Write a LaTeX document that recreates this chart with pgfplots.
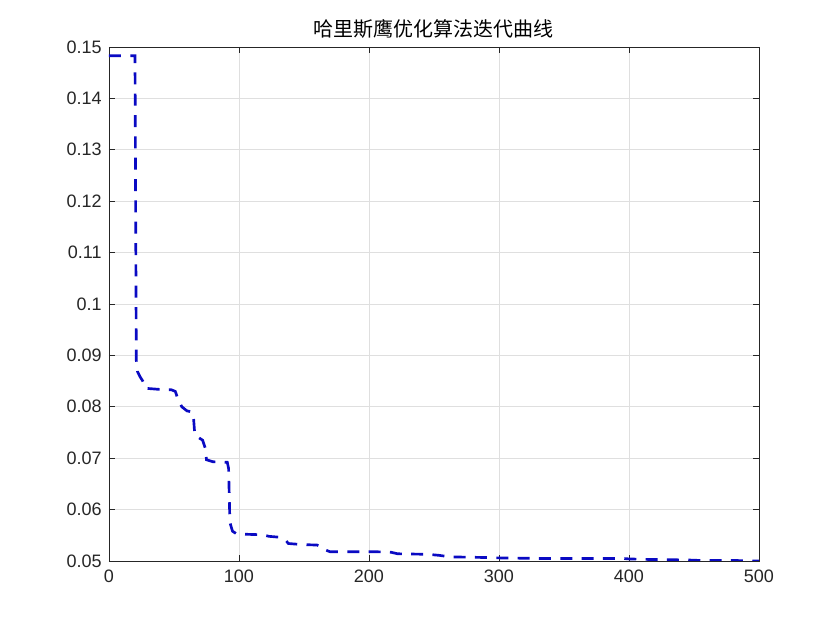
\documentclass[border=0pt]{standalone}
\usepackage{fontspec}
\setmainfont{Liberation Sans}
\newfontfamily\cjk{Noto Sans CJK SC}
\usepackage{pgfplots}
\pgfplotsset{compat=1.18}
\definecolor{linecol}{RGB}{10,10,195}
\definecolor{axcol}{RGB}{38,38,38}
\definecolor{gridcol}{RGB}{223,223,223}
\begin{document}
\begin{tikzpicture}
\path[use as bounding box] (-81.75pt,-51.75pt) rectangle (548.25pt,420.75pt);
\begin{axis}[
  at={(0,0)}, anchor=south west,
  scale only axis, width=487.5pt, height=385.5pt,
  xmin=0, xmax=500, ymin=0.05, ymax=0.15,
  xtick={0,100,200,300,400,500},
  ytick={0.05,0.06,0.07,0.08,0.09,0.1,0.11,0.12,0.13,0.14,0.15},
  yticklabels={0.05,0.06,0.07,0.08,0.09,0.1,0.11,0.12,0.13,0.14,0.15},
  xticklabels={0,100,200,300,400,500},
  grid=major,
  major grid style={gridcol, line width=0.5pt},
  axis line style={axcol, line width=0.6pt},
  tick style={axcol, line width=0.6pt},
  major tick length=4.5pt,
  tick label style={font=\fontsize{13.5}{16}\selectfont, text=axcol},
  /pgf/number format/assume math mode=true,
  xticklabel style={yshift=-3.5pt},
  yticklabel style={xshift=-2pt},
  title={\cjk 哈里斯鹰优化算法迭代曲线},
  title style={font=\fontsize{15}{18}\selectfont, yshift=-3pt},
]
\addplot[linecol, line width=2pt, dash pattern=on 9pt off 7pt] coordinates {
(0,0.1483) (20,0.1483) (21,0.0890) (22,0.0868) (24,0.0858) (26,0.0850)
(28,0.0836) (38,0.0834) (48,0.0833) (51,0.0830) (53,0.0815) (56,0.0800)
(60,0.0792) (64,0.0790) (65,0.0780) (66,0.0745) (69,0.0740) (72,0.0735)
(74,0.0720) (75,0.0697) (80,0.0693) (91,0.0692) (92,0.0680) (93,0.0575)
(95,0.0558) (98,0.0553) (105,0.0552) (118,0.0551) (123,0.0548) (132,0.0546)
(136,0.0540) (138,0.0534) (148,0.0532) (160,0.0531) (164,0.0527) (166,0.0522)
(170,0.0518) (205,0.0518) (217,0.0517) (222,0.0514) (245,0.0513) (254,0.0511)
(262,0.0508) (285,0.0507) (300,0.0506) (330,0.0505) (395,0.0505) (400,0.0504)
(415,0.0503) (445,0.0502) (455,0.0501) (480,0.0501) (500,0.0500)
};
\end{axis}
\end{tikzpicture}
\end{document}
